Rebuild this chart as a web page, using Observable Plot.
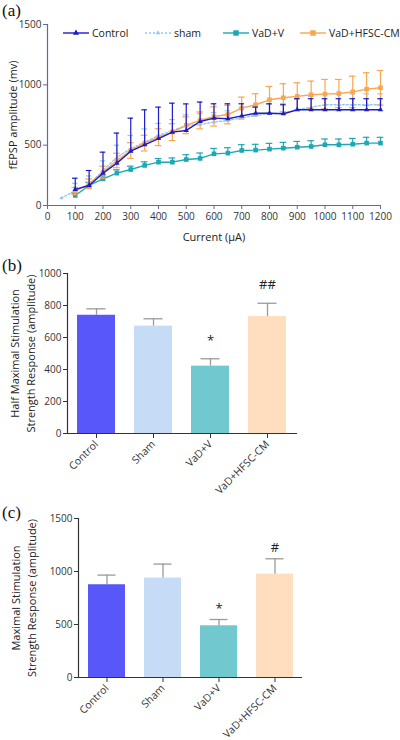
<!DOCTYPE html>
<html>
<head>
<meta charset="utf-8">
<script src="https://cdn.jsdelivr.net/npm/d3@7"></script>
<script src="https://cdn.jsdelivr.net/npm/@observablehq/plot@0.6"></script>
<style>
  html, body { margin: 0; padding: 0; background: #fff; }
  #wrap { position: relative; width: 400px; height: 740px; overflow: hidden; font-family: "Open Sans", sans-serif; color: #222; }
  .panel { position: absolute; left: 0; }
  .plabel { position: absolute; left: 2px; font-family: "Liberation Serif", serif; font-size: 17px; line-height: 1; color: #111; }
  .leg { position: absolute; top: 25px; height: 16px; display: flex; align-items: center; font-size: 10.5px; color: #222; white-space: nowrap; }
  .leg svg { margin-right: 3px; }
</style>
</head>
<body>
<div id="wrap"></div>
<script>
// ---------------- Data ----------------
const currentsUA = [100,150,200,250,300,350,400,450,500,550,600,650,700,750,800,850,900,950,1000,1050,1100,1150,1200];
const shamCurrentsUA = [50,100,150,200,250,300,350,400,450,500,550,600,650,700,750,800,850,900,950,1000,1050,1100,1150,1200];

const controlMean = [133,166,268,351,450,503,555,608,622,696,724,719,743,765,765,760,793,793,793,793,793,793,793];
const controlSem  = [93,124,174,249,274,290,260,240,220,161,119,124,100,50,78,75,92,92,92,92,92,92,92];

const shamMean = [61,124,175,290,400,470,525,580,622,662,671,691,705,727,746,760,765,793,815,835,835,835,835,835];
const shamSem  = [0,60,70,80,100,110,110,100,90,90,90,80,80,80,80,80,80,90,90,90,90,90,90,90];

const vadVMean = [83,166,221,268,298,332,359,359,381,390,428,434,456,459,467,475,483,489,503,503,508,517,517];
const vadVSem  = [20,25,25,28,28,30,30,35,40,45,45,45,48,48,48,48,48,48,48,48,48,48,48];

const vadCMMean = [120,180,276,373,456,517,566,608,665,705,738,754,807,835,876,893,904,918,923,928,942,964,976];
const vadCMSem  = [30,40,50,60,65,65,70,70,70,70,80,77,91,91,110,116,113,113,122,117,130,136,143];

const seriesNames = ["Control", "sham", "VaD+V", "VaD+HFSC-CM"];

const xTicksA = [0,100,200,300,400,500,600,700,800,900,1000,1100,1200];
const yTicksA = [0,500,1000,1500];

const groups = ["Control", "Sham", "VaD+V", "VaD+HFSC-CM"];
const halfMaxMean = [739, 671, 421, 731];
const halfMaxSem  = [40, 46, 46, 83];
const halfMaxSig  = ["", "", "*", "##"];
const yTicksB = [0,200,400,600,800,1000];

const maxMean = [875, 938, 488, 975];
const maxSem  = [91, 132, 59, 145];
const maxSig  = ["", "", "*", "#"];
const yTicksC = [0,500,1000,1500];

// ---------------- Styles ----------------
const lineColors = ["#1c1cc8", "#93c8f2", "#1ea7b5", "#f9a650"];
const barColors = ["#5757fa", "#c6dcf6", "#71c8cf", "#ffdec0"];
const axisA = "#5f67aa";
const fontFam = "'Open Sans', sans-serif";
const fmt = d => String(d);

const wrap = document.getElementById("wrap");

function place(el, top) {
  el.classList.add("panel");
  el.style.top = top + "px";
  wrap.appendChild(el);
}

// ---------------- Panel (a) ----------------
const tbl = (xs, ms, ss) => xs.map((x, i) => ({x, y: ms[i], e: ss[i]}));
const seriesRows = [
  tbl(currentsUA, controlMean, controlSem),
  tbl(shamCurrentsUA, shamMean, shamSem),
  tbl(currentsUA, vadVMean, vadVSem),
  tbl(currentsUA, vadCMMean, vadCMSem)
];
const seriesStyle = [
  {symbol: "triangle", r: 2.0, cap: 10, both: false, dash: null},
  {symbol: "triangle2", r: 2.0, cap: 10, both: false, dash: "2,2"},
  {symbol: "square", r: 2.6, cap: 12, both: false, dash: null},
  {symbol: "square", r: 2.6, cap: 12, both: true, dash: null}
];

function seriesMarks(k) {
  const rows = seriesRows[k];
  const st = seriesStyle[k];
  const col = lineColors[k];
  const eb = rows.filter(d => d.e > 0);
  const m = [
    Plot.ruleX(eb, {x: "x", y1: st.both ? d => d.y - d.e : "y", y2: d => d.y + d.e, stroke: col, strokeWidth: 1.2}),
    Plot.ruleY(eb, {y: d => d.y + d.e, x1: d => d.x - st.cap, x2: d => d.x + st.cap, stroke: col, strokeWidth: 1.2})
  ];
  if (st.both) m.push(Plot.ruleY(eb, {y: d => d.y - d.e, x1: d => d.x - st.cap, x2: d => d.x + st.cap, stroke: col, strokeWidth: 1.2}));
  m.push(Plot.line(rows, {x: "x", y: "y", stroke: col, strokeWidth: 1.4, strokeDasharray: st.dash}));
  m.push(Plot.dot(rows, {x: "x", y: "y", symbol: st.symbol, r: st.r, fill: col, stroke: null}));
  return m;
}

const plotA = Plot.plot({
  width: 400, height: 250,
  marginLeft: 47, marginRight: 20, marginTop: 24, marginBottom: 45,
  style: {fontFamily: fontFam, fontSize: "10px", color: "#333", background: "transparent"},
  x: {domain: [0, 1200], label: null},
  y: {domain: [0, 1500], label: null},
  marks: [
    Plot.axisX({ticks: xTicksA, tickFormat: fmt, tickSize: 4, tickPadding: 3, stroke: axisA, label: null}),
    Plot.axisY({ticks: yTicksA, tickFormat: fmt, tickSize: 4, tickPadding: 2, stroke: axisA, label: null}),
    Plot.ruleY([0], {stroke: axisA, strokeWidth: 1.2}),
    Plot.ruleX([0], {stroke: axisA, strokeWidth: 1.2}),
    ...seriesMarks(1),
    ...seriesMarks(2),
    ...seriesMarks(3),
    ...seriesMarks(0),
    Plot.text(["fEPSP amplitude (mv)"], {text: d => d, frameAnchor: "left", rotate: -90, dx: -34, textAnchor: "middle", lineAnchor: "middle", fontSize: 11, fill: "#222"}),
    Plot.text(["Current (μA)"], {text: d => d, frameAnchor: "bottom", dy: 32, textAnchor: "middle", lineAnchor: "middle", fontSize: 11, fill: "#222"})
  ]
});
place(plotA, 0);

// legend for (a)
const legLeft = [63, 145, 223, 300];
seriesNames.forEach((name, k) => {
  const st = seriesStyle[k];
  const col = lineColors[k];
  const div = document.createElement("div");
  div.className = "leg";
  div.style.left = legLeft[k] + "px";
  const sym = d3.symbol().type(st.symbol === "square" ? d3.symbolSquare : st.symbol === "triangle" ? d3.symbolTriangle : d3.symbolTriangle2).size(st.symbol === "square" ? 30 : 16)();
  div.innerHTML =
    `<svg width="26" height="10"><line x1="0" x2="26" y1="5" y2="5" stroke="${col}" stroke-width="1.4" ${st.dash ? `stroke-dasharray="${st.dash}"` : ""}/>` +
    `<path d="${sym}" transform="translate(13,5)" fill="${col}"/></svg><span>${name}</span>`;
  wrap.appendChild(div);
});

// ---------------- Bar panels ----------------
function barPanel(mean, sem, sig, yTicks, yMax, label, o) {
  const rows = groups.map((g, i) => ({g, v: mean[i], e: sem[i], s: sig[i]}));
  return Plot.plot({
    width: 400, height: o.height,
    marginLeft: o.ml, marginRight: o.mr, marginTop: o.mt, marginBottom: o.mb,
    style: {fontFamily: fontFam, fontSize: "10px", color: "#333", background: "transparent"},
    x: {domain: groups, paddingInner: o.pi, paddingOuter: o.po, label: null},
    y: {domain: [0, yMax], label: null},
    color: {domain: groups, range: barColors},
    marks: [
      Plot.barY(rows, {x: "g", y: "v", fill: "g"}),
      Plot.ruleX(rows, {x: "g", y1: "v", y2: d => d.v + d.e, stroke: "#9a9a9a", strokeWidth: 1.3}),
      Plot.tickY(rows, {x: "g", y: d => d.v + d.e, stroke: "#9a9a9a", strokeWidth: 1.3, insetLeft: 9.5, insetRight: 9.5}),
      Plot.text(rows, {x: "g", y: d => d.v + d.e, text: "s", dy: o.sigDy, fontSize: 13, fill: "#222", lineAnchor: "middle"}),
      Plot.axisX({tickRotate: -45, tickSize: 5, tickPadding: 4, fontSize: 10.5, stroke: "#333", label: null}),
      Plot.axisY({ticks: yTicks, tickFormat: fmt, tickSize: 4, tickPadding: 2, stroke: "#333", label: null}),
      Plot.ruleY([0], {stroke: "#333", strokeWidth: 1.2}),
      Plot.frame({anchor: "left", stroke: "#333", strokeWidth: 1.2}),
      Plot.text([label], {text: d => d, frameAnchor: "left", rotate: -90, dx: o.labDx, textAnchor: "middle", lineAnchor: "middle", fontSize: 11, lineHeight: 1.45, fill: "#222"})
    ]
  });
}

const plotB = barPanel(halfMaxMean, halfMaxSem, halfMaxSig, yTicksB, 1000,
  "Half Maximal Stimulation\nStrength Response (amplitude)",
  {height: 248, ml: 67, mr: 103, mt: 23, mb: 65, pi: 0.33, po: 0.18, sigDy: -18, labDx: -46});
place(plotB, 250);

const plotC = barPanel(maxMean, maxSem, maxSig, yTicksC, 1500,
  "Maximal Stimulation\nStrength Response (amplitude)",
  {height: 245, ml: 78, mr: 98, mt: 23, mb: 63, pi: 0.34, po: 0.17, sigDy: -11, labDx: -56});
place(plotC, 495);

// panel letters
[["(a)", 2], ["(b)", 257], ["(c)", 504]].forEach(([t, top]) => {
  const d = document.createElement("div");
  d.className = "plabel";
  d.style.top = top + "px";
  d.textContent = t;
  wrap.appendChild(d);
});
</script>
</body>
</html>
